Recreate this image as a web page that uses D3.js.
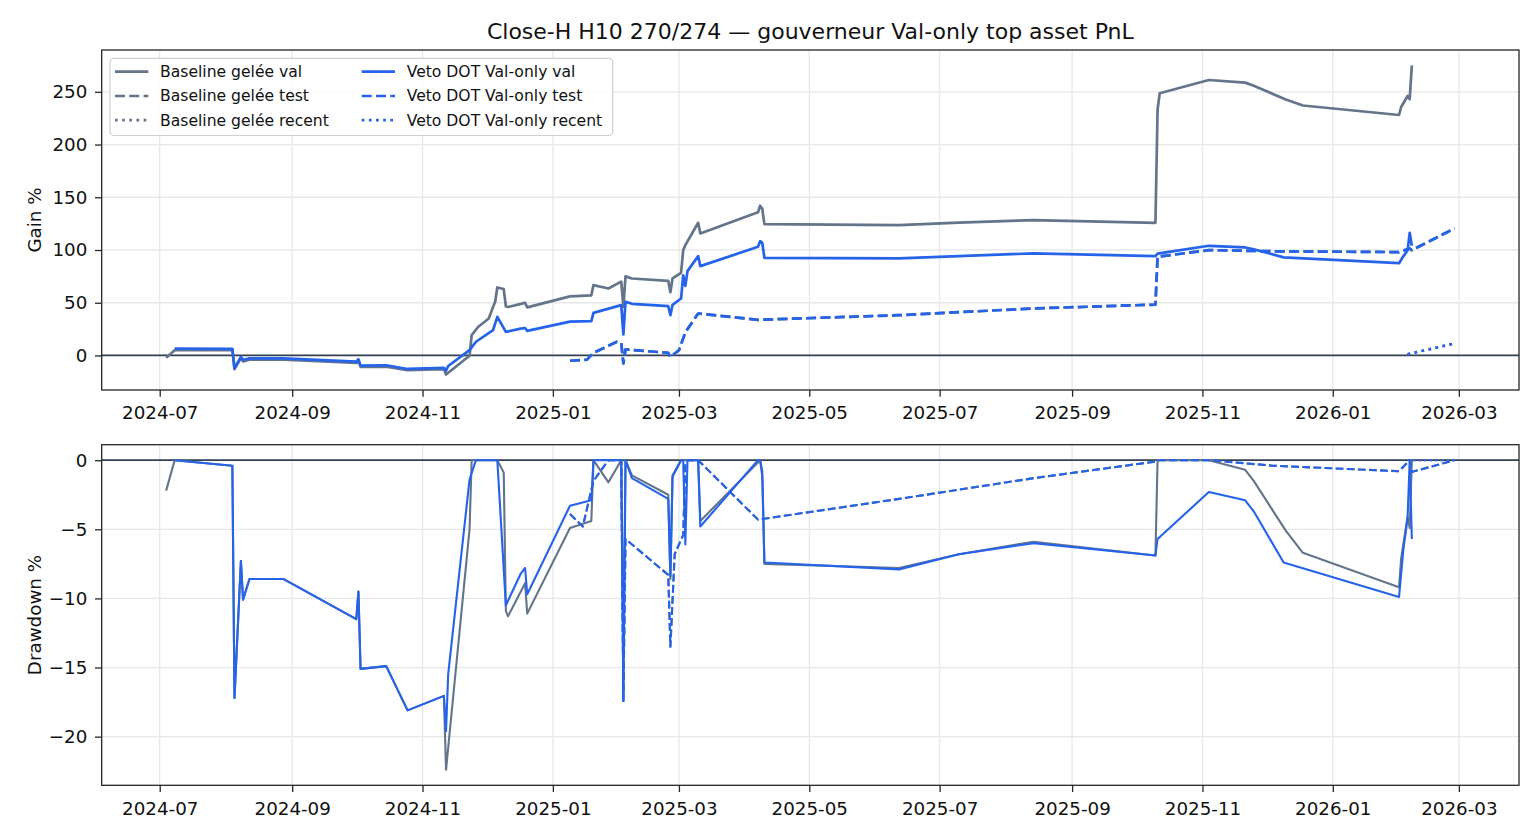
<!DOCTYPE html>
<html>
<head>
<meta charset="utf-8">
<title>Close-H H10 270/274 — gouverneur Val-only top asset PnL</title>
<script src="https://cdn.jsdelivr.net/npm/d3@7"></script>
<style>
    body { margin: 0; background: #ffffff; }
    svg { display: block; font-family: "DejaVu Sans", sans-serif; }
</style>
</head>
<body>
<div id="chart-location"></div>
<script>
// (DATA) values, [date, percent]

// gain % - baseline gelée, val period
var baseValGain = [
    ["2024-07-04", -2.2], ["2024-07-08", 5.0], ["2024-08-04", 5.0], ["2024-08-05", -13.0],
    ["2024-08-08", -2.4], ["2024-08-09", -5.6], ["2024-08-12", -4.0], ["2024-08-28", -4.0],
    ["2024-10-01", -7.1], ["2024-10-02", -5.0], ["2024-10-03", -10.8], ["2024-10-15", -10.6],
    ["2024-10-25", -14.0], ["2024-11-11", -12.9], ["2024-11-12", -18.1], ["2024-11-23", -0.3],
    ["2024-11-24", 19.3], ["2024-11-27", 27.0], ["2024-12-02", 35.0], ["2024-12-04", 46.0],
    ["2024-12-05", 51.0], ["2024-12-06", 64.5], ["2024-12-09", 63.0], ["2024-12-10", 46.6],
    ["2024-12-11", 45.9], ["2024-12-17", 48.9], ["2024-12-19", 50.0], ["2024-12-20", 45.6],
    ["2025-01-09", 56.0], ["2025-01-19", 57.0], ["2025-01-20", 66.7], ["2025-01-27", 63.5],
    ["2025-02-02", 70.0], ["2025-02-03", 46.0], ["2025-02-04", 75.0], ["2025-02-07", 73.0],
    ["2025-02-24", 70.8], ["2025-02-25", 60.0], ["2025-02-26", 73.0], ["2025-03-02", 78.4],
    ["2025-03-03", 100.0], ["2025-03-04", 104.6], ["2025-03-10", 125.8], ["2025-03-11", 115.7],
    ["2025-04-07", 135.7], ["2025-04-08", 142.0], ["2025-04-09", 139.0], ["2025-04-10", 124.5],
    ["2025-06-12", 123.6], ["2025-07-10", 126.0], ["2025-08-14", 128.4], ["2025-10-10", 125.8],
    ["2025-10-11", 233.0], ["2025-10-12", 248.6], ["2025-11-04", 261.2], ["2025-11-21", 258.7],
    ["2025-11-25", 255.8], ["2025-12-10", 242.8], ["2025-12-18", 237.0], ["2026-02-01", 228.0],
    ["2026-02-02", 235.6], ["2026-02-05", 246.0], ["2026-02-06", 243.0], ["2026-02-07", 275.0]
];

// gain % - veto DOT val-only, val period
var vetoValGain = [
    ["2024-07-08", 6.5], ["2024-08-04", 6.2], ["2024-08-05", -12.0], ["2024-08-08", -1.3],
    ["2024-08-09", -4.3], ["2024-08-12", -2.7], ["2024-08-28", -2.7], ["2024-10-01", -5.8],
    ["2024-10-02", -3.6], ["2024-10-03", -9.6], ["2024-10-15", -9.3], ["2024-10-25", -12.8],
    ["2024-11-11", -11.7], ["2024-11-12", -14.4], ["2024-11-13", -10.0], ["2024-11-23", 5.0],
    ["2024-11-26", 13.0], ["2024-12-04", 24.0], ["2024-12-06", 36.6], ["2024-12-10", 22.3],
    ["2024-12-17", 25.4], ["2024-12-19", 26.0], ["2024-12-20", 23.3], ["2025-01-09", 32.1],
    ["2025-01-19", 32.6], ["2025-01-20", 40.4], ["2025-02-02", 47.7], ["2025-02-03", 20.0],
    ["2025-02-04", 50.9], ["2025-02-07", 49.0], ["2025-02-24", 46.7], ["2025-02-25", 38.2],
    ["2025-02-26", 48.0], ["2025-03-02", 54.0], ["2025-03-03", 76.0], ["2025-03-04", 66.0],
    ["2025-03-05", 80.0], ["2025-03-10", 94.2], ["2025-03-11", 84.7], ["2025-04-07", 103.0],
    ["2025-04-08", 108.4], ["2025-04-09", 106.8], ["2025-04-10", 92.6], ["2025-06-12", 92.0],
    ["2025-07-10", 94.2], ["2025-08-14", 96.8], ["2025-10-10", 94.2], ["2025-10-11", 96.5],
    ["2025-11-04", 104.0], ["2025-11-21", 102.4], ["2025-11-25", 100.7], ["2025-12-09", 93.0],
    ["2026-02-01", 87.5], ["2026-02-03", 94.0], ["2026-02-05", 99.5], ["2026-02-06", 116.3],
    ["2026-02-07", 104.0]
];

// gain % - test period (baseline and veto curves coincide in the picture)
var testGain = [
    ["2025-01-09", -5.0], ["2025-01-17", -4.0], ["2025-01-20", 2.5], ["2025-01-31", 13.0],
    ["2025-02-02", 12.0], ["2025-02-03", -7.6], ["2025-02-04", 5.7], ["2025-02-24", 2.5],
    ["2025-02-25", -1.5], ["2025-03-01", 5.0], ["2025-03-04", 22.0], ["2025-03-10", 39.8],
    ["2025-04-07", 33.8], ["2025-06-12", 38.2], ["2025-08-14", 44.6], ["2025-10-10", 48.2],
    ["2025-10-11", 93.6], ["2025-11-04", 99.9], ["2025-12-04", 98.8], ["2026-02-01", 98.0],
    ["2026-02-06", 101.5], ["2026-02-07", 99.8], ["2026-02-27", 120.5]
];

// gain % - recent period (baseline and veto curves coincide)
var recentGain = [
    ["2026-02-05", 1.0], ["2026-02-06", 1.6], ["2026-02-27", 11.4]
];

// drawdown % - baseline gelée, val period
var baseValDD = [
    ["2024-07-04", -2.2], ["2024-07-08", 0], ["2024-08-04", -0.4], ["2024-08-05", -17.2],
    ["2024-08-08", -7.3], ["2024-08-09", -10.1], ["2024-08-12", -8.6], ["2024-08-28", -8.6],
    ["2024-10-01", -11.5], ["2024-10-02", -9.5], ["2024-10-03", -15.1], ["2024-10-15", -14.9],
    ["2024-10-25", -18.1], ["2024-11-11", -17.05], ["2024-11-12", -22.4], ["2024-11-23", -5.0],
    ["2024-11-24", 0], ["2024-12-06", 0], ["2024-12-09", -0.9], ["2024-12-10", -10.9],
    ["2024-12-11", -11.3], ["2024-12-17", -9.5], ["2024-12-19", -8.9], ["2024-12-20", -11.1],
    ["2025-01-09", -4.9], ["2025-01-19", -4.4], ["2025-01-20", 0], ["2025-01-27", -1.6],
    ["2025-02-02", 0], ["2025-02-03", -14.0], ["2025-02-04", 0], ["2025-02-07", -1.1],
    ["2025-02-24", -2.5], ["2025-02-25", -8.6], ["2025-02-26", -1.1], ["2025-03-02", 0],
    ["2025-03-10", 0], ["2025-03-11", -4.4], ["2025-04-08", 0], ["2025-04-09", -1.2],
    ["2025-04-10", -7.5], ["2025-06-12", -7.8], ["2025-07-10", -6.8], ["2025-08-14", -5.9],
    ["2025-10-10", -6.9], ["2025-10-11", 0], ["2025-11-04", 0], ["2025-11-21", -0.7],
    ["2025-11-25", -1.5], ["2025-12-10", -5.1], ["2025-12-18", -6.7], ["2026-02-01", -9.2],
    ["2026-02-02", -7.1], ["2026-02-05", -4.1], ["2026-02-06", -4.9], ["2026-02-07", 0]
];

// drawdown % - veto DOT val-only, val period
var vetoValDD = [
    ["2024-07-08", 0], ["2024-08-04", -0.4], ["2024-08-05", -17.2], ["2024-08-08", -7.3],
    ["2024-08-09", -10.1], ["2024-08-12", -8.6], ["2024-08-28", -8.6], ["2024-10-01", -11.5],
    ["2024-10-02", -9.5], ["2024-10-03", -15.1], ["2024-10-15", -14.9], ["2024-10-25", -18.1],
    ["2024-11-11", -17.05], ["2024-11-12", -19.6], ["2024-11-13", -15.5], ["2024-11-23", -1.4],
    ["2024-11-26", 0], ["2024-12-04", 0], ["2024-12-06", 0], ["2024-12-10", -10.5],
    ["2024-12-17", -8.2], ["2024-12-19", -7.8], ["2024-12-20", -9.7], ["2025-01-09", -3.3],
    ["2025-01-19", -2.9], ["2025-01-20", 0], ["2025-02-02", 0], ["2025-02-03", -17.3],
    ["2025-02-04", 0], ["2025-02-07", -1.3], ["2025-02-24", -2.8], ["2025-02-25", -8.4],
    ["2025-02-26", -1.2], ["2025-03-02", 0], ["2025-03-03", 0], ["2025-03-04", -6.1],
    ["2025-03-05", 0], ["2025-03-10", 0], ["2025-03-11", -4.8], ["2025-04-07", 0],
    ["2025-04-08", 0], ["2025-04-09", -0.8], ["2025-04-10", -7.4], ["2025-06-12", -7.9],
    ["2025-07-10", -6.8], ["2025-08-14", -6.0], ["2025-10-10", -6.9], ["2025-10-11", -5.7],
    ["2025-11-04", -2.3], ["2025-11-21", -2.9], ["2025-11-25", -3.7], ["2025-12-09", -7.4],
    ["2026-02-01", -9.9], ["2026-02-03", -6.5], ["2026-02-05", -4.2], ["2026-02-06", 0],
    ["2026-02-07", -5.7]
];

// drawdown % - test period
var testDD = [
    ["2025-01-09", -3.9], ["2025-01-15", -4.8], ["2025-01-20", -1.5], ["2025-01-27", 0],
    ["2025-02-02", 0], ["2025-02-03", -17.5], ["2025-02-04", -5.7], ["2025-02-24", -8.3],
    ["2025-02-25", -13.5], ["2025-02-27", -6.8], ["2025-03-03", -5.4], ["2025-03-04", -0.3],
    ["2025-03-05", 0], ["2025-03-10", 0], ["2025-04-07", -4.3], ["2025-06-12", -2.8],
    ["2025-08-14", -1.3], ["2025-10-10", -0.1], ["2025-10-11", 0], ["2025-11-04", 0],
    ["2025-12-04", -0.4], ["2026-02-01", -0.8], ["2026-02-06", 0], ["2026-02-07", -0.85],
    ["2026-02-27", 0]
];

// drawdown % - recent period
var recentDD = [
    ["2026-02-05", 0], ["2026-02-27", 0]
];

// tick labels
var xTickLabels = ["2024-07", "2024-09", "2024-11", "2025-01", "2025-03", "2025-05",
                   "2025-07", "2025-09", "2025-11", "2026-01", "2026-03"];
var gainTicks = [0, 50, 100, 150, 200, 250];
var ddTicks = [0, -5, -10, -15, -20];

var chartTitle = "Close-H H10 270/274 \u2014 gouverneur Val-only top asset PnL";

function init () {

    // (VARIABLES) canvas and axes boxes
    var w = 1540;
    var h = 840;
    var axLeft = 101.7;
    var axRight = 1519;
    var grey = "#64748b";
    var blue = "#2563eb";
    var ink = "#262626";

    var parseDay = d3.utcParse("%Y-%m-%d");
    var parseMonth = d3.utcParse("%Y-%m");

    // series tables built from the arrays above (drawing order = legend order)
    var gainSeries = [
        { label: "Baseline gel\u00e9e val", data: baseValGain, color: grey, dash: "solid" },
        { label: "Baseline gel\u00e9e test", data: testGain, color: grey, dash: "dash" },
        { label: "Baseline gel\u00e9e recent", data: recentGain, color: grey, dash: "dot" },
        { label: "Veto DOT Val-only val", data: vetoValGain, color: blue, dash: "solid" },
        { label: "Veto DOT Val-only test", data: testGain, color: blue, dash: "dash" },
        { label: "Veto DOT Val-only recent", data: recentGain, color: blue, dash: "dot" }
    ];
    var ddSeries = [
        { data: baseValDD, color: grey, dash: "solid" },
        { data: testDD, color: grey, dash: "dash" },
        { data: recentDD, color: grey, dash: "dot" },
        { data: vetoValDD, color: blue, dash: "solid" },
        { data: testDD, color: blue, dash: "dash" },
        { data: recentDD, color: blue, dash: "dot" }
    ];

    // (SVG CANVAS)
    var svg = d3.select("#chart-location")
        .append("svg")
        .attr("width", w)
        .attr("height", h);
    svg.append("rect").attr("width", w).attr("height", h).attr("fill", "#ffffff");

    // matplotlib-like 5% margin around the data range
    function padExtent(ext) {
        var span = ext[1] - ext[0];
        return [ext[0] - span * 0.05, ext[1] + span * 0.05];
    }

    // (X) shared time scale
    var allDates = [];
    gainSeries.concat(ddSeries).forEach(function(s) {
        s.data.forEach(function(d) { allDates.push(parseDay(d[0]).getTime()); });
    });
    var xExt = padExtent(d3.extent(allDates));
    var xScale = d3.scaleUtc()
        .domain([new Date(xExt[0]), new Date(xExt[1])])
        .range([axLeft, axRight]);
    var xTicks = xTickLabels.map(function(t) { return parseMonth(t); });

    function dashArray(kind, lw) {
        if (kind === "dash") return (3.7 * lw) + "," + (1.6 * lw);
        if (kind === "dot") return lw + "," + (1.65 * lw);
        return null;
    }

    // function to draw one panel: grid, zero line, curves, spines, axes
    function drawPanel(series, top, bottom, yTicks, yLabel, lw) {
        var values = [];
        series.forEach(function(s) {
            s.data.forEach(function(d) { values.push(d[1]); });
        });
        var yScale = d3.scaleLinear()
            .domain(padExtent(d3.extent(values)))
            .range([bottom, top]);

        var g = svg.append("g");

        // (GRID)
        g.selectAll(".xgrid")
            .data(xTicks)
            .enter()
            .append("line")
            .attr("x1", function(d) { return xScale(d); })
            .attr("x2", function(d) { return xScale(d); })
            .attr("y1", top)
            .attr("y2", bottom)
            .attr("stroke", "#e8e8e8")
            .attr("stroke-width", 1.3);
        g.selectAll(".ygrid")
            .data(yTicks)
            .enter()
            .append("line")
            .attr("x1", axLeft)
            .attr("x2", axRight)
            .attr("y1", function(d) { return yScale(d); })
            .attr("y2", function(d) { return yScale(d); })
            .attr("stroke", "#e8e8e8")
            .attr("stroke-width", 1.3);

        // (ZERO LINE)
        g.append("line")
            .attr("x1", axLeft)
            .attr("x2", axRight)
            .attr("y1", yScale(0))
            .attr("y2", yScale(0))
            .attr("stroke", "#334155")
            .attr("stroke-width", 1.7);

        // (LINES)
        var line = d3.line()
            .x(function(d) { return xScale(parseDay(d[0])); })
            .y(function(d) { return yScale(d[1]); });

        series.forEach(function(s) {
            g.append("path")
                .datum(s.data)
                .attr("d", line)
                .attr("fill", "none")
                .attr("stroke", s.color)
                .attr("stroke-width", lw)
                .attr("stroke-linejoin", "round")
                .attr("stroke-dasharray", dashArray(s.dash, lw));
        });

        // (SPINES)
        g.append("rect")
            .attr("x", axLeft)
            .attr("y", top)
            .attr("width", axRight - axLeft)
            .attr("height", bottom - top)
            .attr("fill", "none")
            .attr("stroke", ink)
            .attr("stroke-width", 1.3);

        // (X-AXIS)
        var xAxis = d3.axisBottom(xScale)
            .tickValues(xTicks)
            .tickFormat(d3.utcFormat("%Y-%m"))
            .tickSize(6.7)
            .tickPadding(9.6);
        var xg = g.append("g")
            .attr("transform", "translate(0," + bottom + ")")
            .call(xAxis);

        // (Y-AXIS)
        var yAxis = d3.axisLeft(yScale)
            .tickValues(yTicks)
            .tickFormat(d3.format("d"))
            .tickSize(6.7)
            .tickPadding(7.7);
        var yg = g.append("g")
            .attr("transform", "translate(" + axLeft + ",0)")
            .call(yAxis);

        [xg, yg].forEach(function(ax) {
            ax.select(".domain").remove();
            ax.selectAll(".tick line").attr("stroke", ink).attr("stroke-width", 1.3);
            ax.selectAll(".tick text")
                .attr("fill", "#111111")
                .style("font-family", "'DejaVu Sans', sans-serif")
                .style("font-size", "18.3px");
        });

        // (Y LABEL)
        g.append("text")
            .attr("transform", "translate(40.5," + ((top + bottom) / 2) + ") rotate(-90)")
            .attr("text-anchor", "middle")
            .attr("fill", "#111111")
            .style("font-size", "18.3px")
            .text(yLabel);
    }

    drawPanel(gainSeries, 50, 390, gainTicks, "Gain %", 2.7);
    drawPanel(ddSeries, 444.7, 785.3, ddTicks, "Drawdown %", 2.1);

    // (TITLE)
    svg.append("text")
        .attr("x", (axLeft + axRight) / 2)
        .attr("y", 39)
        .attr("text-anchor", "middle")
        .attr("fill", "#111111")
        .style("font-size", "22px")
        .text(chartTitle);

    // (LEGEND) two columns, filled column by column
    var legend = svg.append("g");
    legend.append("rect")
        .attr("x", 110)
        .attr("y", 58.3)
        .attr("width", 502.7)
        .attr("height", 77.2)
        .attr("rx", 4)
        .attr("fill", "#ffffff")
        .attr("fill-opacity", 0.8)
        .attr("stroke", "#d0d0d0")
        .attr("stroke-width", 1.2);

    var colX = [115, 361.7];
    var rowY = [71.7, 96, 120.2];
    gainSeries.forEach(function(s, i) {
        var cx = colX[Math.floor(i / 3)];
        var cy = rowY[i % 3];
        legend.append("line")
            .attr("x1", cx)
            .attr("x2", cx + 33.3)
            .attr("y1", cy)
            .attr("y2", cy)
            .attr("stroke", s.color)
            .attr("stroke-width", 2.7)
            .attr("stroke-dasharray", dashArray(s.dash, 2.7));
        legend.append("text")
            .attr("x", cx + 45)
            .attr("y", cy)
            .attr("dy", "0.35em")
            .attr("fill", "#111111")
            .style("font-size", "15.6px")
            .text(s.label);
    });
}

window.onload = init;
</script>
</body>
</html>
